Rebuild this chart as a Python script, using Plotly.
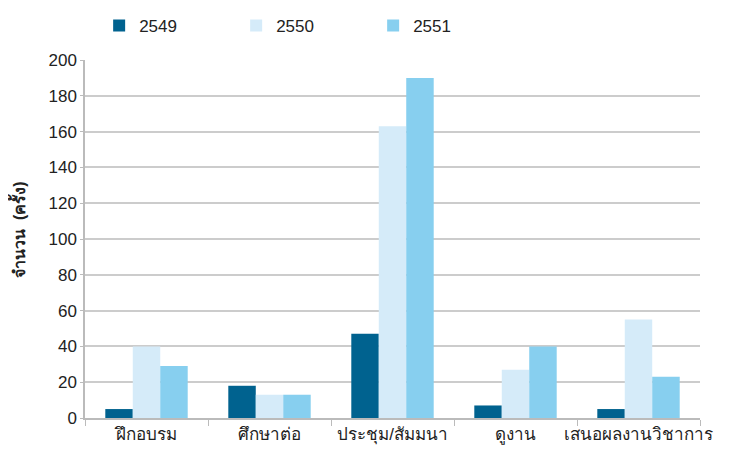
import plotly.graph_objects as go

categories = ["ฝึกอบรม", "ศึกษาต่อ", "ประชุม/สัมมนา", "ดูงาน", "เสนอผลงานวิชาการ"]
series_names = ["2549", "2550", "2551"]
values_2549 = [5, 18, 47, 7, 5]
values_2550 = [40, 13, 163, 27, 55]
values_2551 = [29, 13, 190, 40, 23]
colors = ["#00628f", "#d5ebf9", "#87cfef"]
y_title = "จำนวน\u00a0\u00a0(ครั้ง)"

fig = go.Figure()
for name, vals, col in zip(series_names, [values_2549, values_2550, values_2551], colors):
    fig.add_trace(go.Bar(x=categories, y=vals, name=name, marker=dict(color=col, line=dict(width=0))))

font_family = "Liberation Sans, Arial, sans-serif"
fig.update_layout(
    width=745, height=454,
    margin=dict(l=77, r=53, t=52, b=44, autoexpand=False),
    paper_bgcolor="white", plot_bgcolor="white",
    barmode="group", bargap=0.33, bargroupgap=0,
    font=dict(family=font_family, size=17, color="#222222"),
    legend=dict(orientation="h", x=0.023, xanchor="left", y=1.095, yanchor="middle",
                entrywidth=92, entrywidthmode="pixels", font=dict(size=17),
                itemsizing="constant"),
    xaxis=dict(showline=True, linecolor="#bbbbbb", linewidth=1.5, ticks="outside",
               tickson="boundaries", tickcolor="#bbbbbb", ticklen=6, showgrid=False,
               tickangle=0, automargin=False, tickfont=dict(size=17)),
    yaxis=dict(range=[0, 200], dtick=20, showline=True, linecolor="#bbbbbb", linewidth=1.5,
               gridcolor="#cccccc", gridwidth=1.5, ticks="outside", tickcolor="#bbbbbb", ticklen=3,
               tickfont=dict(size=17), automargin=False),
    annotations=[dict(text="<b>" + y_title + "</b>", xref="paper", yref="paper",
                      x=-0.109, y=0.528, xanchor="center", yanchor="middle",
                      textangle=-90, showarrow=False, font=dict(size=16))],
)
fig.write_html("out.html")
